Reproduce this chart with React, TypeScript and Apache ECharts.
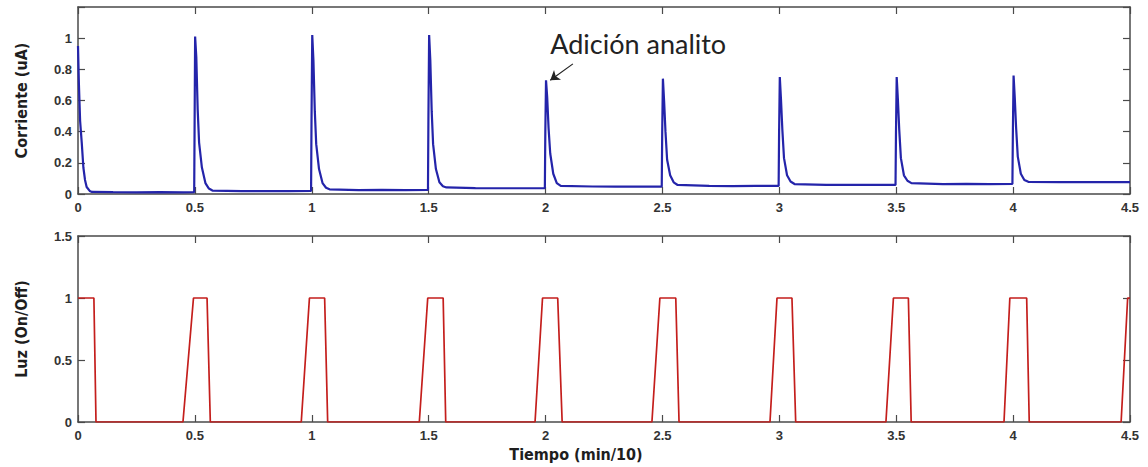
import React, { useEffect, useRef } from "react";
import * as echarts from "echarts";

// Corriente (uA) vs Tiempo (min/10)
const currentT = [
  0, 0.004, 0.009, 0.016, 0.023, 0.03, 0.037, 0.05, 0.06, 0.15, 0.25, 0.35, 0.45, 0.497,
  0.499, 0.501, 0.506, 0.512, 0.518, 0.53, 0.545, 0.56, 0.575, 0.7, 0.8, 0.9, 0.997,
  0.999, 1.002, 1.007, 1.013, 1.019, 1.031, 1.046, 1.061, 1.076, 1.2, 1.3, 1.4, 1.497,
  1.499, 1.502, 1.507, 1.513, 1.519, 1.531, 1.546, 1.561, 1.576, 1.7, 1.8, 1.9, 1.997,
  1.999, 2.002, 2.007, 2.013, 2.02, 2.033, 2.048, 2.065, 2.2, 2.3, 2.4, 2.497,
  2.499, 2.502, 2.507, 2.513, 2.52, 2.533, 2.548, 2.565, 2.7, 2.8, 2.9, 2.997,
  2.999, 3.002, 3.007, 3.013, 3.02, 3.033, 3.048, 3.065, 3.2, 3.3, 3.4, 3.497,
  3.499, 3.502, 3.507, 3.513, 3.52, 3.533, 3.548, 3.565, 3.7, 3.8, 3.9, 3.997,
  3.999, 4.002, 4.007, 4.013, 4.02, 4.033, 4.048, 4.065, 4.2, 4.3, 4.4, 4.5,
];
const currentV = [
  0.95, 0.7, 0.47, 0.33, 0.17, 0.09, 0.045, 0.02, 0.013, 0.012, 0.011, 0.012, 0.011, 0.012,
  0.5, 1.01, 0.88, 0.54, 0.33, 0.17, 0.07, 0.035, 0.022, 0.018, 0.018, 0.019, 0.02,
  0.5, 1.02, 0.86, 0.53, 0.32, 0.16, 0.07, 0.04, 0.03, 0.025, 0.026, 0.025, 0.026,
  0.5, 1.02, 0.86, 0.53, 0.32, 0.16, 0.075, 0.05, 0.042, 0.038, 0.037, 0.037, 0.038,
  0.4, 0.73, 0.62, 0.42, 0.26, 0.13, 0.07, 0.052, 0.048, 0.047, 0.048, 0.047,
  0.4, 0.74, 0.6, 0.4, 0.22, 0.12, 0.075, 0.058, 0.052, 0.051, 0.052, 0.052,
  0.4, 0.75, 0.61, 0.41, 0.23, 0.12, 0.08, 0.064, 0.058, 0.058, 0.059, 0.058,
  0.4, 0.75, 0.61, 0.41, 0.23, 0.12, 0.085, 0.07, 0.064, 0.065, 0.064, 0.065,
  0.4, 0.76, 0.62, 0.42, 0.24, 0.13, 0.09, 0.078, 0.076, 0.077, 0.076, 0.076,
];

// Luz (On/Off) vs Tiempo (min/10)
const luzT = [
  0, 0.068, 0.077,
  0.449, 0.494, 0.552, 0.566,
  0.955, 0.99, 1.055, 1.068,
  1.46, 1.496, 1.562, 1.573,
  1.955, 1.987, 2.052, 2.071,
  2.455, 2.489, 2.557, 2.571,
  2.96, 2.99, 3.054, 3.07,
  3.456, 3.488, 3.552, 3.564,
  3.961, 3.986, 4.058, 4.069,
  4.462, 4.49, 4.5,
];
const luzV = [
  1, 1, 0,
  0, 1, 1, 0,
  0, 1, 1, 0,
  0, 1, 1, 0,
  0, 1, 1, 0,
  0, 1, 1, 0,
  0, 1, 1, 0,
  0, 1, 1, 0,
  0, 1, 1, 0,
  0, 1, 1,
];

const xTickLabels = ["0", "0.5", "1", "1.5", "2", "2.5", "3", "3.5", "4", "4.5"];
const annotationText = "Adición analito";
const annotationTip = [2.02, 0.73];
const annotationTail = [2.117, 0.835];
const annotationTextAt = [2.02, 1.05];

export default function App() {
  const ref = useRef<HTMLDivElement>(null);
  useEffect(() => {
    if (!ref.current) return;
    const chart = echarts.init(ref.current, undefined, { renderer: "svg" });
    const axisColor = "#4a4a4a";
    const labelStyle = {
      color: "#333",
      fontWeight: "bold" as const,
      fontSize: 13,
      fontFamily: "Liberation Sans, Arial, sans-serif",
    };
    const titleStyle = {
      color: "#1e1e1e",
      fontWeight: "bold" as const,
      fontSize: 16,
      fontFamily: "DejaVu Sans Condensed, Liberation Sans Narrow, sans-serif",
    };
    const xBase = (gridIndex: number, position: string, showLabel: boolean) => ({
      type: "value",
      gridIndex,
      position,
      min: 0,
      max: 4.5,
      interval: 0.5,
      axisLine: { show: true, onZero: false, lineStyle: { color: axisColor, width: 1.5 } },
      axisTick: { show: true, inside: true, length: 7, lineStyle: { color: axisColor, width: 1.2 } },
      axisLabel: {
        show: showLabel,
        ...labelStyle,
        margin: 7,
        formatter: (v: number) => xTickLabels[Math.round(v / 0.5)] ?? "",
      },
      splitLine: { show: false },
    });
    const yBase = (gridIndex: number, position: string, max: number, interval: number, showLabel: boolean) => ({
      type: "value",
      gridIndex,
      position,
      min: 0,
      max,
      interval,
      axisLine: { show: true, onZero: false, lineStyle: { color: axisColor, width: 1.5 } },
      axisTick: { show: true, inside: true, length: 7, lineStyle: { color: axisColor, width: 1.2 } },
      axisLabel: {
        show: showLabel,
        ...labelStyle,
        margin: 6,
        formatter: (v: number) => (v > 1.1 && max < 1.3 ? "" : String(Math.round(v * 10) / 10)),
      },
      splitLine: { show: false },
    });

    const option: any = {
      animation: false,
      backgroundColor: "#fff",
      grid: [
        { left: 78, top: 7, width: 1052, height: 187 },
        { left: 78, top: 236, width: 1052, height: 186 },
      ],
      xAxis: [
        xBase(0, "bottom", true),
        xBase(0, "top", false),
        {
          ...xBase(1, "bottom", true),
          name: "Tiempo (min/10)",
          nameLocation: "middle",
          nameGap: 24,
          nameTextStyle: { ...titleStyle, padding: [0, 56, 0, 0] },
        },
        xBase(1, "top", false),
      ],
      yAxis: [
        {
          ...yBase(0, "left", 1.2, 0.2, true),
          name: "Corriente (uA)",
          nameLocation: "middle",
          nameRotate: 90,
          nameGap: 49,
          nameTextStyle: titleStyle,
        },
        yBase(0, "right", 1.2, 0.2, false),
        {
          ...yBase(1, "left", 1.5, 0.5, true),
          name: "Luz (On/Off)",
          nameLocation: "middle",
          nameRotate: 90,
          nameGap: 49,
          nameTextStyle: titleStyle,
        },
        yBase(1, "right", 1.5, 0.5, false),
      ],
      series: [
        {
          name: "Corriente",
          type: "line",
          xAxisIndex: 0,
          yAxisIndex: 0,
          showSymbol: false,
          symbol: "none",
          data: currentT.map((t, i) => [t, currentV[i]]),
          lineStyle: { color: "#2424aa", width: 2.2 },
          markLine: {
            silent: true,
            symbol: ["none", "arrow"],
            symbolSize: 9,
            label: { show: false },
            lineStyle: { color: "#222", width: 1.2, type: "solid" },
            data: [[{ coord: annotationTail }, { coord: annotationTip }]],
          },
        },
        {
          name: "Luz",
          type: "line",
          xAxisIndex: 2,
          yAxisIndex: 2,
          showSymbol: false,
          symbol: "none",
          data: luzT.map((t, i) => [t, luzV[i]]),
          lineStyle: { color: "#c41e1c", width: 1.7 },
        },
      ],
    };
    chart.setOption(option);
    const p = chart.convertToPixel({ gridIndex: 0 }, annotationTextAt) as number[];
    chart.setOption({
      graphic: [
        {
          type: "text",
          x: p[0],
          y: p[1],
          style: {
            text: annotationText,
            fill: "#222",
            fontSize: 27,
            fontFamily: "Lato, Open Sans, sans-serif",
          },
        },
      ],
    });
    return () => chart.dispose();
  }, []);
  return (
    <div
      ref={ref}
      style={{ position: "fixed", left: 0, top: 0, width: 1148, height: 467, background: "#fff" }}
    />
  );
}
